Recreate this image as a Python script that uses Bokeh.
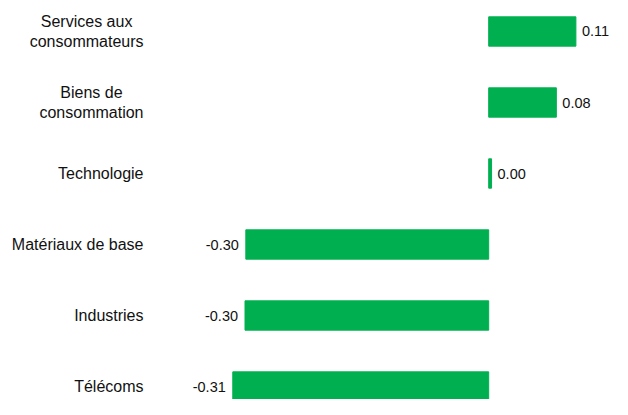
from bokeh.plotting import figure
from bokeh.models import Range1d, ColumnDataSource
from bokeh.embed import file_html
from bokeh.resources import INLINE
from bokeh.core.properties import value

categories = ["Services aux\nconsommateurs", "Biens de\nconsommation", "Technologie",
              "Matériaux de base", "Industries", "Télécoms"]
values = [0.107, 0.083, 0.0035, -0.298, -0.299, -0.314]
value_labels = ["0.11", "0.08", "0.00", "-0.30", "-0.30", "-0.31"]

rows = list(range(len(categories)))
GREEN = "#00B050"
FONT = "Liberation Sans"
TXT = "#111111"

X0, X1 = -0.599, 0.1519
p = figure(width=612, height=399, output_backend="svg", toolbar_location=None,
           x_range=Range1d(X0, X1), y_range=Range1d(5.183, -0.4366),
           x_axis_location=None, y_axis_location=None,
           min_border_left=0, min_border_right=0, min_border_top=0, min_border_bottom=0)
p.outline_line_color = None
p.grid.visible = False
p.background_fill_color = "white"

# category labels (right-anchored blocks, lines centred)
cat_src = ColumnDataSource(dict(x=[X0] * len(rows), y=rows, t=categories))
p.text(x="x", y="y", text="t", source=cat_src, x_offset=143, anchor="center_right",
       text_align="center", text_font=value(FONT), text_font_size="16px",
       text_color=TXT, text_line_height=1.2)

src = ColumnDataSource(dict(y=rows, v=values))
p.hbar(y="y", left=0, right="v", height=0.413, color=GREEN, source=src)

pos_idx = [i for i, v in enumerate(values) if v >= 0]
neg_idx = [i for i, v in enumerate(values) if v < 0]
pos_src = ColumnDataSource(dict(x=[values[i] for i in pos_idx], y=[rows[i] for i in pos_idx],
                                t=[value_labels[i] for i in pos_idx]))
neg_src = ColumnDataSource(dict(x=[values[i] for i in neg_idx], y=[rows[i] for i in neg_idx],
                                t=[value_labels[i] for i in neg_idx]))
p.text(x="x", y="y", text="t", source=pos_src, x_offset=6, text_align="left",
       text_baseline="middle", text_font=value(FONT), text_font_size="14.5px", text_color=TXT)
p.text(x="x", y="y", text="t", source=neg_src, x_offset=-7, text_align="right",
       text_baseline="middle", text_font=value(FONT), text_font_size="14.5px", text_color=TXT)

open("out.html", "w").write(file_html(p, INLINE))
